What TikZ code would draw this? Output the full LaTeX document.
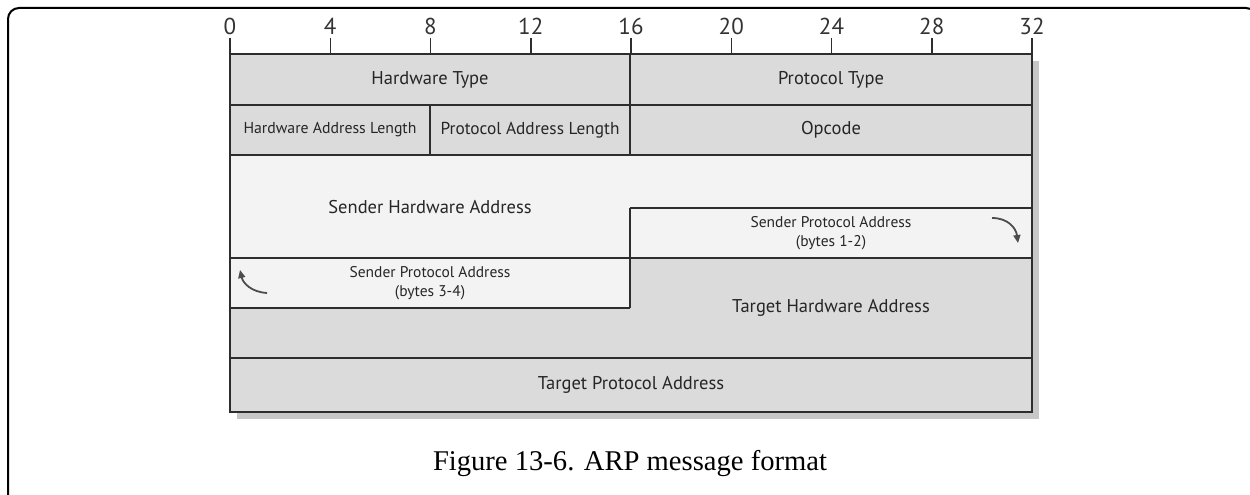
\documentclass[tikz,border=0pt]{standalone}
\usepackage{fontspec}
\setmainfont{Liberation Serif}
\setsansfont{PT Sans}
\usetikzlibrary{arrows.meta}

\definecolor{cellgray}{RGB}{219,219,219}
\definecolor{celllight}{RGB}{243,243,243}
\definecolor{rulegray}{RGB}{45,45,45}

\begin{document}
\begin{tikzpicture}[x=1pt,y=-1pt,
    field/.style={font=\sffamily\fontsize{18.5}{20}\selectfont, text=black!85},
    smallfield/.style={font=\sffamily\fontsize{15.5}{19}\selectfont, text=black!85, align=center},
    bitlabel/.style={font=\sffamily\fontsize{23}{23}\selectfont, text=black!80, above, inner sep=1pt},
    wrap/.style={-{Triangle[length=8pt,width=7pt]}, line width=1.8pt, black!70}]
  \useasboundingbox (0,0) rectangle (1250,495);
  \clip (0,0) rectangle (1250,495);

  % Outer frame
  \draw[line width=2pt, rounded corners=11pt] (8,520) -- (8,8) -- (1257,8) -- (1257,520);

  % Drop shadow
  \fill[black!22] (237,61) rectangle (1039,419);

  % Field areas
  \fill[cellgray] (230,54) rectangle (1032,412);
  \fill[celllight] (230,155) -- (1032,155) -- (1032,258) -- (630,258)
    -- (630,308) -- (230,308) -- cycle;

  % Field borders
  \draw[rulegray, line width=1.3pt] (230,105) -- (1032,105);
  \draw[rulegray, line width=1.3pt] (230,155) -- (1032,155);
  \draw[rulegray, line width=1.3pt] (630,208) -- (1032,208);
  \draw[rulegray, line width=1.3pt] (230,258) -- (1032,258);
  \draw[rulegray, line width=1.3pt] (230,308) -- (630,308);
  \draw[rulegray, line width=1.5pt] (230,358) -- (1032,358);
  \draw[rulegray, line width=1.5pt] (630,54) -- (630,155);
  \draw[rulegray, line width=1.3pt] (430,105) -- (430,155);
  \draw[rulegray, line width=1.5pt] (630,208) -- (630,308);
  \draw[rulegray, line width=2.2pt] (230,54) rectangle (1032,412);

  % Bit scale
  \foreach \b in {0,4,...,32} {
    \draw[rulegray, line width=1.5pt] (230+25.0625*\b,38) -- (230+25.0625*\b,54);
    \node[bitlabel] (bit\b) at (230+25.0625*\b,36) {\b};
  }

  % Field labels
  \node[field] (hwtype) at (430,80) {Hardware Type};
  \node[field] (prtype) at (831,80) {Protocol Type};
  \node[field, font=\sffamily\fontsize{15.8}{16}\selectfont] (hwlen) at (330,130) {Hardware Address Length};
  \node[field, font=\sffamily\fontsize{17.3}{18}\selectfont] (prlen) at (530,130) {Protocol Address Length};
  \node[field] (opcode) at (831,130) {Opcode};
  \node[field] (sha) at (430,207) {Sender Hardware Address};
  \node[smallfield] (spa12) at (831,233) {Sender Protocol Address\\(bytes 1-2)};
  \node[smallfield] (spa34) at (430,283) {Sender Protocol Address\\(bytes 3-4)};
  \node[field] (tha) at (831,308) {Target Hardware Address};
  \node[field] (tpa) at (631,385) {Target Protocol Address};

  % Continuation arrows
  \draw[wrap] (992,218) .. controls (1008,218) and (1016,228) .. (1018,243);
  \draw[wrap] (267,293) .. controls (251,292) and (243,283) .. (240,270);

  % Caption
  \node[font=\fontsize{28.6}{30}\selectfont, anchor=base] (caption) at (630,470) {Figure 13-6. ARP message format};
\end{tikzpicture}
\end{document}
